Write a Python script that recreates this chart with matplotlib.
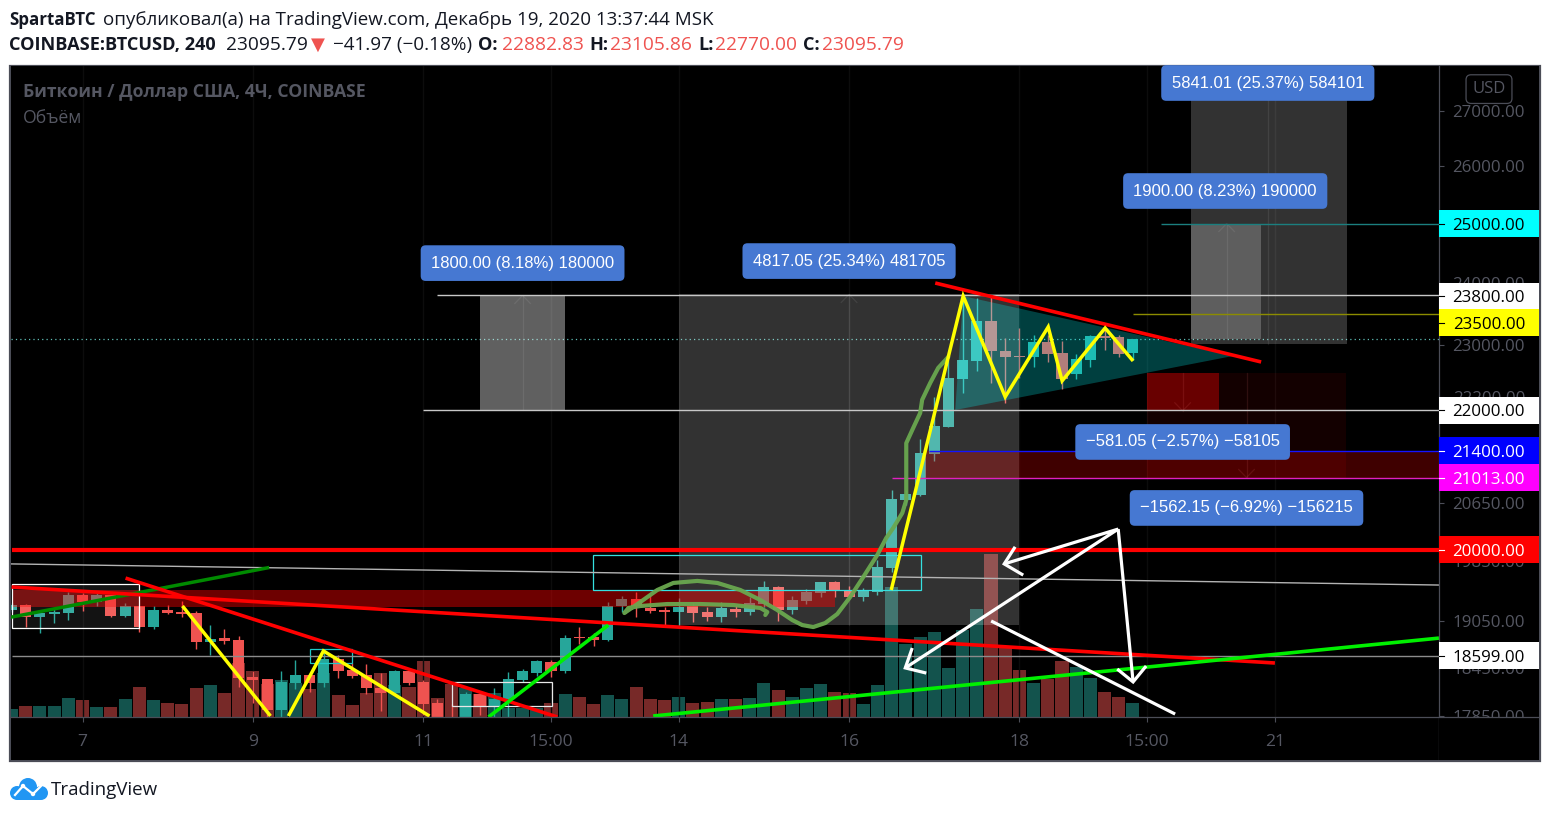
"""Dark TradingView screenshot of BTCUSD 4h candles with hand drawn levels."""

import matplotlib
matplotlib.use("Agg")
import matplotlib.pyplot as plt
from matplotlib.patches import Rectangle, Circle
from matplotlib.transforms import blended_transform_factory
from matplotlib.ticker import FixedLocator, FixedFormatter, NullLocator

# ---- candles (4h bars, bar index = position in list)
opens = [19192, 19258, 19100, 19140, 19153, 19391, 19298, 19391, 19113, 19245,
         18970, 19192, 19166, 19153, 18776, 18827, 18801, 18332, 18307, 17923,
         18257, 18357, 18257, 18559, 18420, 18357, 18195, 18133, 18407, 18270,
         18010, 17830, 17838, 18120, 17960, 18058, 18295, 18382, 18521, 18407,
         18840, 18840, 18801, 19245, 19337, 19219, 19192, 19166, 19245, 19166,
         19100, 19205, 19166, 19271, 19497, 19192, 19311, 19417, 19564, 19457,
         19364, 19431, 19754, 20692, 20762, 21354, 21753, 22479, 22757, 23386,
         22913, 22835, 22819, 23054, 22882, 22556, 22772, 23148, 23133, 22882.83]
highs = [19284, 19271, 19166, 19219, 19431, 19417, 19431, 19391, 19284, 19245,
         19245, 19258, 19311, 19179, 18996, 18944, 18853, 18407, 18307, 18407,
         18546, 18357, 18673, 18610, 18508, 18496, 18382, 18420, 18407, 18295,
         18058, 17997, 18145, 18145, 18195, 18395, 18433, 18546, 18546, 18866,
         18970, 18892, 19298, 19377, 19431, 19391, 19232, 19351, 19284, 19232,
         19298, 19258, 19364, 19578, 19511, 19377, 19471, 19564, 19578, 19511,
         19484, 19861, 20833, 20833, 21575, 22205, 22772, 23727, 23759, 23775,
         23117, 23275, 23164, 23164, 23070, 22866, 23164, 23275, 23164, 23105.86]
lows = [19166, 18970, 18892, 19022, 19061, 19179, 19245, 19100, 19100, 18905,
        18944, 19140, 19100, 18686, 18610, 18750, 18207, 18010, 17838, 17838,
        18182, 18145, 18207, 18320, 18320, 18120, 17911, 18108, 18232, 17862,
        17838, 17700, 17800, 17862, 17838, 17838, 18270, 18345, 18332, 18382,
        18750, 18724, 18789, 19166, 19100, 19153, 18996, 18983, 19035, 19048,
        19035, 19100, 19127, 19232, 19048, 19140, 19271, 19364, 19364, 19351,
        19311, 19391, 19700, 20621, 20748, 21253, 21753, 22266, 22602, 22418,
        22108, 22495, 22664, 22741, 22327, 22479, 22664, 22928, 22819, 22770.00]
closes = [19258, 19100, 19153, 19166, 19391, 19298, 19391, 19113, 19245, 18970,
          19192, 19153, 19140, 18776, 18814, 18789, 18320, 18295, 17923, 18270,
          18357, 18257, 18559, 18407, 18345, 18195, 18133, 18407, 18257, 17997,
          17838, 17750, 18120, 17960, 18058, 18307, 18407, 18534, 18407, 18827,
          18827, 18801, 19245, 19337, 19245, 19179, 19166, 19232, 19153, 19100,
          19219, 19166, 19284, 19497, 19192, 19324, 19431, 19564, 19444, 19364,
          19457, 19767, 20706, 20776, 21369, 21768, 22495, 22772, 23386, 22913,
          22819, 22819, 23054, 22866, 22479, 22788, 23148, 23117, 22866, 23095.79]
volumes = [80, 110, 110, 110, 190, 170, 100, 100, 180, 300,
           170, 140, 130, 290, 320, 240, 540, 460, 330, 370,
           340, 280, 440, 220, 120, 240, 440, 320, 300, 560,
           190, 330, 290, 230, 240, 90, 90, 90, 140, 230,
           200, 130, 220, 180, 300, 180, 170, 200, 140, 150,
           180, 180, 190, 340, 270, 200, 290, 330, 250, 240,
           130, 320, 1300, 730, 800, 850, 490, 870, 1080, 1630,
           690, 470, 340, 380, 560, 500, 390, 250, 200, 140]

# ---- axis labels
date_ticks = [5, 17, 29, 38, 47, 59, 71, 80, 89]
date_labels = ["7", "9", "11", "15:00", "14", "16", "18", "15:00", "21"]
price_ticks = [27000, 26000, 24000, 23000, 22200, 20650, 19850, 19050, 18450, 17850]

# ---- price levels on the scale: label, line price, box centre price, box colour, text colour
level_labels = ["25000.00", "23800.00", "23500.00", "22000.00", "21400.00", "21013.00", "20000.00", "18599.00"]
level_prices = [25000, 23800, 23500, 22000, 21400, 21013, 20000, 18599]
level_box_prices = [25000, 23790, 23360, 22000, 21400, 21013, 20000, 18599]
level_starts = [81.0, 30.0, 79.0, 29.0, 64.6, 62.0, 0, 0]
level_colors = ["#00ffff", "#ffffff", "#ffff00", "#ffffff", "#0000ff", "#ff00ff", "#ff0000", "#ffffff"]
level_text = ["black", "black", "black", "black", "white", "white", "white", "black"]
level_line = ["#1b7f7f", "#c8c8c8", "#8c8c00", "#c8c8c8", "#1414ff", "#e020c0", "#ff0000", "#8c8c8c"]

# ---- drawn trend lines as (bar, price) pairs
gray_line = ([0, 100.56], [19807, 19523])
red_lines = [([0, 89.0], [19497, 18509]),
             ([8.03, 38.45], [19616, 17838]),
             ([65.07, 88.03], [24003, 22741])]
dark_green_line = ([0, 18.03], [19100, 19754])
lime_lines = [([33.6, 42.04], [17838, 18996]),
              ([45.2, 100.56], [17850, 18827])]
yellow_lines = [([12.04, 18.24], [19245, 17850]),
                ([19.5, 21.97, 29.44], [17850, 18663, 17850]),
                ([61.97, 67.04, 70.0, 73.03, 74.01, 77.04, 79.01],
                 [19457, 23790, 22205, 23293, 22449, 23275, 22757])]
white_lines = [([71.27, 69.93, 70.7], [19656, 19807, 20040]),
               ([69.93, 77.96, 62.96], [19807, 20285, 18447]),
               ([63.45, 62.96, 64.44], [18700, 18447, 18382]),
               ([77.96, 79.01], [20285, 18271]),
               ([77.89, 79.01, 79.93], [18433, 18271, 18471]),
               ([69.01, 81.97], [19049, 17874])]
curve_bars = [53.1, 53.24, 52.75, 50.85, 48.52, 46.2, 44.3, 43.45, 43.17, 44.3, 45.49,
              46.62, 48.31, 49.72, 51.34, 52.75, 53.94, 55, 55.7, 56.48, 57.32, 58.17,
              59.08, 60, 60.99, 61.62, 62.11, 62.75, 63.03, 63.03, 63.52, 64.01, 64.15,
              64.72, 65.28, 65.99]
curve_prices = [19127, 19166, 19219, 19258, 19271, 19271, 19245, 19219, 19153, 19298, 19457,
                19551, 19578, 19551, 19457, 19324, 19192, 19061, 18996, 18970, 19022, 19140,
                19364, 19630, 19929, 20162, 20300, 20509, 20692, 21513, 21738, 21961, 22160,
                22418, 22649, 22819]
triangle = ([67.04, 86.06, 66.48], [23790, 22835, 22006])

# ---- position tool boxes: bar from, bar to, price low, price high
gray_boxes = [(33.03, 39.01, 22000, 23800, 0.38),
              (47.04, 70.99, 19000, 23817.05, 0.20),
              (83.1, 94.08, 23023, 28864, 0.20),
              (83.1, 88.03, 23100, 25000, 0.22)]
red_boxes = [(80.0, 94.0, 21013, 22575, 0.08),
             (80.0, 85.07, 21994, 22575, 0.36),
             (64.37, 100.56, 21013, 21400, 0.25),
             (0, 58.03, 19232, 19457, 0.43)]
# bar, arrow tip price, far end price
long_arrows = [(36.0, 23800, 22000), (59.0, 23817, 19000), (88.5, 28864, 23023), (85.6, 25000, 23100)]
short_arrows = [(82.5, 21994, 22575), (87.0, 21013, 22575)]
outline_boxes = [(0, 9.01, 18957, 19537, "#ffffff"),
                 (31.06, 38.1, 17973, 18271, "#e8e8e8"),
                 (20.99, 24.01, 18509, 18686, "#1fc8c8"),
                 (40.99, 64.08, 19457, 19929, "#35e0e0")]
blue_labels = [("1800.00 (8.18%) 180000", 36.0, 24332),
               ("4817.05 (25.34%) 481705", 59.0, 24366),
               ("5841.01 (25.37%) 584101", 88.5, 27522),
               ("1900.00 (8.23%) 190000", 85.5, 25562),
               ("\u2212581.05 (\u22122.57%) \u221258105", 82.5, 21530),
               ("\u22121562.15 (\u22126.92%) \u2212156215", 87.0, 20580)]

TEAL = "#26a69a"
RED = "#ef5350"
GREY = "#4b4d57"
LABEL_GREY = "#555762"
W, H = 1549, 816
PX = 72 / 100  # points per pixel at dpi 100
YMIN, YMAX = 17838, 27844
XMIN, XMAX = -0.04, 100.56

plt.rcParams["font.family"] = ["Open Sans", "DejaVu Sans"]


def rect_px(x0, y0, x1, y1):
    return [x0 / W, 1 - y1 / H, (x1 - x0) / W, (y1 - y0) / H]


def draw_candles(ax):
    for i in range(len(opens)):
        up = closes[i] >= opens[i]
        col = TEAL if up else RED
        ax.vlines(i, lows[i], highs[i], color=col, lw=1.0, zorder=2)
        low, high = min(opens[i], closes[i]), max(opens[i], closes[i])
        ax.bar(i, high - low, bottom=low, width=0.78, color=col, zorder=2.1)


def draw_tools(ax):
    for x0, x1, lo, hi, alpha in gray_boxes:
        ax.add_patch(Rectangle((x0, lo), x1 - x0, hi - lo, fc="white", ec="none", alpha=alpha, zorder=3))
    for x0, x1, lo, hi, alpha in red_boxes:
        ax.add_patch(Rectangle((x0, lo), x1 - x0, hi - lo, fc="#ff0000", ec="none", alpha=alpha, zorder=3))
    for bar, tip, far in long_arrows:
        ax.plot([bar, bar], [far, tip], color="white", alpha=0.08, lw=0.9, zorder=3.1)
        ax.plot([bar - 0.55, bar, bar + 0.55], [tip * 0.9945, tip, tip * 0.9945],
                color="white", alpha=0.08, lw=0.9, zorder=3.1)
    for bar, tip, far in short_arrows:
        ax.plot([bar, bar], [far, tip], color="#ff8080", alpha=0.12, lw=0.9, zorder=3.1)
        ax.plot([bar - 0.55, bar, bar + 0.55], [tip * 1.0055, tip, tip * 1.0055],
                color="#ff8080", alpha=0.12, lw=0.9, zorder=3.1)
    # first box also has a slight grey fill
    x0, x1, lo, hi, _ = outline_boxes[0]
    ax.add_patch(Rectangle((x0, lo), x1 - x0, hi - lo, fc="white", ec="none", alpha=0.08, zorder=3.1))
    for x0, x1, lo, hi, col in outline_boxes:
        ax.add_patch(Rectangle((x0, lo), x1 - x0, hi - lo, fc="none", ec=col, lw=0.9, zorder=3.2))
    ax.add_patch(plt.Polygon(list(zip(*triangle)), fc="#00ffff", ec="none", alpha=0.25, zorder=3.2))


def draw_lines(ax):
    ax.axhline(23095.79, color="#5fbdb5", lw=0.9, ls=(0, (1, 2.5)), zorder=1.5)
    for lab, price, start, col in zip(level_labels, level_prices, level_starts, level_line):
        width = 3.0 if lab == "20000.00" else 1.0
        ax.plot([start, XMAX], [price, price], color=col, lw=width, zorder=3.5, solid_capstyle="butt")
    ax.plot(*gray_line, color="#b4b4b4", lw=1.0, zorder=3.5)
    ax.plot(*dark_green_line, color="#008a00", lw=2.5, zorder=3.6)
    for xs, ys in red_lines:
        ax.plot(xs, ys, color="#ff0000", lw=2.6, zorder=3.7, solid_capstyle="butt")
    for xs, ys in lime_lines:
        ax.plot(xs, ys, color="#00f000", lw=2.6, zorder=3.8, solid_capstyle="butt")
    ax.plot(curve_bars, curve_prices, color="#6aa84f", lw=3.0, alpha=0.95, zorder=3.9,
            solid_joinstyle="round", solid_capstyle="round")
    for xs, ys in yellow_lines:
        ax.plot(xs, ys, color="#ffff00", lw=2.5, zorder=4, solid_capstyle="butt", solid_joinstyle="miter")
    for xs, ys in white_lines:
        ax.plot(xs, ys, color="white", lw=2.3, zorder=4.1, solid_capstyle="butt", solid_joinstyle="miter")


def draw_price_scale(ax_price):
    ax_price.set_facecolor("black")
    ax_price.set_yscale("log")
    ax_price.set_ylim(YMIN, YMAX)
    ax_price.set_xlim(0, 1)
    ax_price.xaxis.set_major_locator(NullLocator())
    ax_price.yaxis.set_minor_locator(NullLocator())
    ax_price.yaxis.set_major_locator(FixedLocator(price_ticks))
    ax_price.yaxis.set_major_formatter(FixedFormatter([f"{p}.00" for p in price_ticks]))
    ax_price.tick_params(axis="y", direction="in", length=5 * PX, width=0.8, color=GREY,
                         labelcolor=LABEL_GREY, labelsize=12.2, pad=-86 * PX)
    blend = blended_transform_factory(ax_price.transAxes, ax_price.transData)
    box_h = 27 / 651
    for lab, pos, col, txt in zip(level_labels, level_box_prices, level_colors, level_text):
        disp = ax_price.transData.transform((0, pos))[1]
        frac = ax_price.transAxes.inverted().transform((0, disp))[1]
        ax_price.add_patch(Rectangle((0, frac - box_h / 2), 1, box_h, transform=ax_price.transAxes,
                                     fc=col, ec="none", zorder=3))
        ax_price.plot([0, 0.05], [pos, pos], transform=blend, color=txt, lw=0.8, zorder=3.1)
        ax_price.text(0.86, pos, lab, transform=blend, color=txt, fontsize=12.2, ha="right",
                      va="center_baseline", zorder=3.2)
    ax_price.text(0.5, 0.9645, "USD", transform=ax_price.transAxes, color=LABEL_GREY, fontsize=12,
                  ha="center", va="center", zorder=4,
                  bbox=dict(boxstyle="round,pad=0.38,rounding_size=0.3", fc="black", ec=GREY, lw=0.9))


def draw_logo(fig):
    logo = fig.add_axes(rect_px(8, 776, 50, 802))
    logo.set_xlim(8, 50)
    logo.set_ylim(802, 776)
    logo.axis("off")
    blue = "#2196f3"
    for cx, cy, r in [(17, 793, 7), (28, 787, 9), (41, 793, 7)]:
        logo.add_patch(Circle((cx, cy), r, fc=blue, ec="none"))
    logo.add_patch(Rectangle((17, 790), 24, 10, fc=blue, ec="none"))
    logo.plot([15, 23, 33, 41], [795, 786, 794, 786], color="white", lw=1.6)
    logo.add_patch(Circle((23, 786), 2.2, fc="white", ec="none"))
    logo.add_patch(Circle((33, 794), 2.2, fc="white", ec="none"))


def header(fig):
    def put(x, y, s, color="#131722", bold=False, size=13.8):
        fig.text(x / W, 1 - y / H, s, color=color, fontsize=size, va="center",
                 fontweight="bold" if bold else "normal")

    put(9, 20, "SpartaBTC", bold=True, size=12.2)
    put(103, 20, "опубликовал(а) на TradingView.com, Декабрь 19, 2020 13:37:44 MSK", size=13.5)
    put(9, 45, "COINBASE:BTCUSD, 240", bold=True, size=13.1)
    put(226, 45, "23095.79")
    put(311, 45, "\u25BC", color=RED, size=13.1)
    put(333, 45, "\u221241.97 (\u22120.18%)", size=13.6)
    for x, s in [(478, "O:"), (589, "H:"), (698, "L:"), (803, "C:")]:
        put(x, 45, s, bold=True, size=13.1)
    for x, s in [(502, "22882.83"), (610, "23105.86"), (715, "22770.00"), (822, "23095.79")]:
        put(x, 45, s, color=RED)
    put(51, 790, "TradingView", color="#131722", size=13.5)


def main():
    fig = plt.figure(figsize=(W / 100, H / 100), dpi=100, facecolor="white")

    # outer frame behind everything
    fig.patches.append(Rectangle((9.5 / W, 1 - 761 / H), 1530.5 / W, 695.5 / H, transform=fig.transFigure,
                                 fc="black", ec=GREY, lw=1.6, zorder=-5))

    ax = fig.add_axes(rect_px(11, 66, 1439, 717))
    ax.set_yscale("log")
    ax_vol = ax.twinx()
    ax_vol.set_yscale("linear")
    ax.set_zorder(ax_vol.get_zorder() + 1)
    ax.patch.set_visible(False)
    ax_vol.patch.set_visible(True)
    ax_vol.set_facecolor("black")

    # volumes in the background pane
    vol_cols = [TEAL if c >= o else RED for o, c in zip(opens, closes)]
    ax_vol.bar(range(len(volumes)), volumes, width=0.92, color=vol_cols, alpha=0.5)
    ax_vol.set_ylim(0, 6510)
    ax_vol.yaxis.set_major_locator(NullLocator())
    ax_vol.yaxis.set_minor_locator(NullLocator())

    for t in date_ticks:
        ax.axvline(t, color="#0c0c0c", lw=1, zorder=0.5)

    draw_candles(ax)
    draw_tools(ax)
    draw_lines(ax)

    for text, bar, price in blue_labels:
        ax.text(bar, price, text, color="white", fontsize=12, family="Liberation Sans", ha="center",
                va="center", zorder=6,
                bbox=dict(boxstyle="round,pad=0.62,rounding_size=0.3", fc="#4678d2", ec="none"))

    ax.set_xlim(XMIN, XMAX)
    ax.set_ylim(YMIN, YMAX)
    ax.xaxis.set_major_locator(NullLocator())
    ax.yaxis.set_major_locator(NullLocator())
    ax.yaxis.set_minor_locator(NullLocator())
    for sp in list(ax.spines.values()) + list(ax_vol.spines.values()):
        sp.set_visible(False)

    ax.text(0.0085, 0.9595, "Биткоин / Доллар США, 4Ч, COINBASE", transform=ax.transAxes, color=LABEL_GREY,
            fontsize=12.7, fontweight="bold", va="center", zorder=7)
    ax.text(0.0085, 0.9195, "Объём", transform=ax.transAxes, color=LABEL_GREY, fontsize=12.7, va="center", zorder=7)

    ax_price = fig.add_axes(rect_px(1439, 66, 1539, 717), zorder=2)
    draw_price_scale(ax_price)
    for name, sp in ax_price.spines.items():
        sp.set_visible(name == "left")
        sp.set_color(GREY)
        sp.set_linewidth(0.9)

    # time axis strip sits over the clipped 17850 label
    ax_time = fig.add_axes(rect_px(11, 717, 1439, 760), zorder=3)
    ax_time.set_facecolor("black")
    ax_time.set_xlim(XMIN, XMAX)
    ax_time.yaxis.set_major_locator(NullLocator())
    ax_time.set_xticks(date_ticks)
    ax_time.set_xticklabels(date_labels)
    ax_time.tick_params(axis="x", top=True, bottom=False, labelbottom=True, direction="in",
                        length=5 * PX, width=0.8, color=GREY, labelcolor=LABEL_GREY, labelsize=12.6, pad=-26 * PX)
    for name, sp in ax_time.spines.items():
        sp.set_visible(name in ("top", "right"))
        sp.set_color(GREY)
        sp.set_linewidth(0.9)

    ax_corner = fig.add_axes(rect_px(1439, 717, 1539, 760), zorder=3)
    ax_corner.set_facecolor("black")
    ax_corner.set_xticks([])
    ax_corner.set_yticks([])
    for name, sp in ax_corner.spines.items():
        sp.set_visible(name == "top")
        sp.set_color(GREY)
        sp.set_linewidth(0.9)

    header(fig)
    draw_logo(fig)
    fig.savefig("out.png", dpi=100, facecolor="white")
    plt.close(fig)


if __name__ == "__main__":
    main()
